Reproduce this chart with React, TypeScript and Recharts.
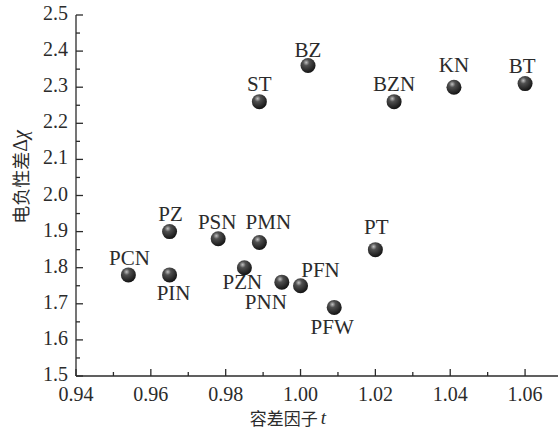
import React from 'react';
import { ScatterChart, Scatter, XAxis, YAxis, Label } from 'recharts';

// compound names, tolerance factor t, electronegativity difference
const names = ['ST', 'BZ', 'BZN', 'KN', 'BT', 'PZ', 'PSN', 'PMN', 'PCN', 'PIN', 'PZN', 'PNN', 'PFN', 'PT', 'PFW'];
const tValues = [0.989, 1.002, 1.025, 1.041, 1.06, 0.965, 0.978, 0.989, 0.954, 0.965, 0.985, 0.995, 1.0, 1.02, 1.009];
const chiValues = [2.26, 2.36, 2.26, 2.3, 2.31, 1.9, 1.88, 1.87, 1.78, 1.78, 1.8, 1.76, 1.75, 1.85, 1.69];

const xTicks = [0.94, 0.95, 0.96, 0.97, 0.98, 0.99, 1.0, 1.01, 1.02, 1.03, 1.04, 1.05, 1.06];
const xTickLabels = ['0.94', '', '0.96', '', '0.98', '', '1.00', '', '1.02', '', '1.04', '', '1.06'];
const yTicks = [1.5, 1.55, 1.6, 1.65, 1.7, 1.75, 1.8, 1.85, 1.9, 1.95, 2.0, 2.05, 2.1, 2.15, 2.2, 2.25, 2.3, 2.35, 2.4, 2.45, 2.5];
const yTickLabels = ['1.5', '', '1.6', '', '1.7', '', '1.8', '', '1.9', '', '2.0', '', '2.1', '', '2.2', '', '2.3', '', '2.4', '', '2.5'];

const data = names.map((name, i) => ({ name, t: tValues[i], chi: chiValues[i] }));

// where each name sits relative to its ball (px)
const labelOffset: Record<string, [number, number]> = {
  ST: [0, -18], BZ: [0, -16], BZN: [0, -18], KN: [0, -22], BT: [-3, -18],
  PZ: [1, -18], PSN: [-1, -17], PMN: [9, -20], PCN: [1, -17], PIN: [4, 18],
  PZN: [-2, 14], PNN: [-16, 20], PFN: [20, -16], PT: [1, -23], PFW: [-2, 20],
};

const serif = '"Liberation Serif", "DejaVu Serif", serif';
const cjk = '"Noto Sans CJK SC", sans-serif';
const ink = '#2b2b2b';

const XTick = (props: any) => {
  const { x, y, index } = props;
  const text = xTickLabels[index];
  return (
    <g>
      <line x1={x} x2={x} y1={y} y2={y - (text ? 7 : 4)} stroke={ink} strokeWidth={1.3} />
      {text && (
        <text x={x} y={y + 18} textAnchor="middle" dominantBaseline="central" fontFamily={serif} fontSize={20} fill={ink}>
          {text}
        </text>
      )}
    </g>
  );
};

const YTick = (props: any) => {
  const { x, y, index } = props;
  const text = yTickLabels[index];
  return (
    <g>
      <line x1={x} x2={x + (text ? 7 : 4)} y1={y} y2={y} stroke={ink} strokeWidth={1.3} />
      {text && (
        <text x={x - 8} y={y - 2} textAnchor="end" dominantBaseline="central" fontFamily={serif} fontSize={20} fill={ink}>
          {text}
        </text>
      )}
    </g>
  );
};

const Ball = (props: any) => {
  const { cx, cy, payload } = props;
  const [dx, dy] = labelOffset[payload.name] || [0, -18];
  return (
    <g>
      <circle cx={cx} cy={cy} r={7.5} fill="url(#ball)" />
      <text x={cx + dx} y={cy + dy} textAnchor="middle" dominantBaseline="central" fontFamily={serif} fontSize={21} fill={ink}>
        {payload.name}
      </text>
    </g>
  );
};

export default function App() {
  return (
    <div style={{ position: 'absolute', left: 0, top: 0, background: '#fff' }}>
      <ScatterChart width={558} height={429} margin={{ top: 15, right: 0, bottom: 0, left: 0 }}>
        <defs>
          <radialGradient id="ball" cx="38%" cy="30%" r="75%">
            <stop offset="0%" stopColor="#c0c0c0" />
            <stop offset="28%" stopColor="#505050" />
            <stop offset="100%" stopColor="#0e0e0e" />
          </radialGradient>
        </defs>
        <XAxis
          type="number"
          dataKey="t"
          domain={[0.94, 1.0688]}
          ticks={xTicks}
          interval={0}
          tickSize={0}
          tickMargin={0}
          tickLine={false}
          tick={<XTick />}
          axisLine={{ stroke: ink, strokeWidth: 1.3 }}
          height={53}
        >
          <Label
            content={() => (
              <text x={288} y={417} textAnchor="middle" dominantBaseline="central" fill={ink}>
                <tspan fontFamily={cjk} fontSize={17}>容差因子</tspan>
                <tspan fontFamily={serif} fontStyle="italic" fontSize={19} dx={3}>t</tspan>
              </text>
            )}
          />
        </XAxis>
        <YAxis
          type="number"
          dataKey="chi"
          domain={[1.5, 2.5]}
          ticks={yTicks}
          interval={0}
          tickSize={0}
          tickMargin={0}
          tickLine={false}
          tick={<YTick />}
          axisLine={{ stroke: ink, strokeWidth: 1.3 }}
          width={76}
        >
          <Label
            content={() => (
              <text x={20} y={177} transform="rotate(-90 20 177)" textAnchor="middle" dominantBaseline="central" fill={ink}>
                <tspan fontFamily={cjk} fontSize={18}>电负性差</tspan>
                <tspan fontFamily={serif} fontSize={20}>Δ</tspan>
                <tspan fontFamily={serif} fontStyle="italic" fontSize={20}>χ</tspan>
              </text>
            )}
          />
        </YAxis>
        <Scatter data={data} shape={<Ball />} isAnimationActive={false} />
      </ScatterChart>
    </div>
  );
}
